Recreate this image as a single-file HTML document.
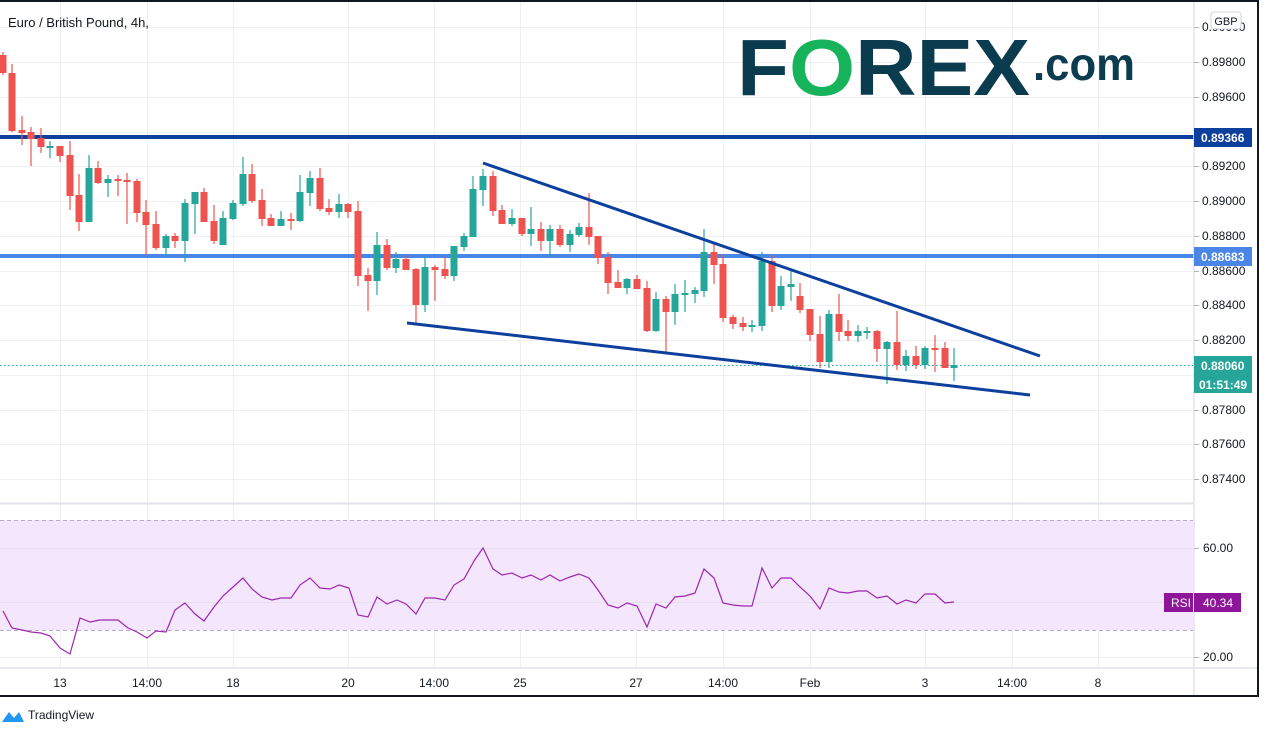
<!DOCTYPE html>
<html><head><meta charset="utf-8"><style>
html,body{margin:0;padding:0;background:#fff;width:1265px;height:733px;overflow:hidden}
svg{display:block}
text{font-family:"Liberation Sans",sans-serif}
</style></head><body>
<svg width="1265" height="733" viewBox="0 0 1265 733">
<!-- grid -->
<g stroke="#eef0f3" stroke-width="1">
<path d="M0 27.5H1193M0 62.5H1193M0 97.5H1193M0 132.5H1193M0 166.5H1193M0 201.5H1193M0 236.5H1193M0 271.5H1193M0 305.5H1193M0 340.5H1193M0 375.5H1193M0 410.5H1193M0 444.5H1193M0 479.5H1193"/>
<path d="M60.5 0V668M147.5 0V668M233.5 0V668M348.5 0V668M434.5 0V668M520.5 0V668M636.5 0V668M723.5 0V668M810.5 0V668M925.5 0V668M1012.5 0V668M1098.5 0V668"/>
</g>
<!-- logo -->
<text x="737" y="95" font-size="80" font-weight="bold" fill="#0a3b4f" textLength="293" lengthAdjust="spacingAndGlyphs">F<tspan fill="#17b35a">O</tspan>REX</text>
<text x="1033" y="80" font-size="46" font-weight="bold" fill="#0a3b4f" textLength="102" lengthAdjust="spacingAndGlyphs">.com</text>
<!-- title -->
<text x="8" y="27" font-size="13" fill="#131722">Euro / British Pound, 4h,</text>
<!-- horizontal levels -->
<rect x="0" y="135" width="1194" height="4" fill="#0d3f9c"/>
<rect x="0" y="254" width="1194" height="4" fill="#4a86e8"/>
<line x1="0" y1="365.5" x2="1193" y2="365.5" stroke="#26a69a" stroke-dasharray="1.5 2.5"/>
<!-- candles -->
<path stroke="#ef5350" stroke-width="1.2" d="M3 52V75M12 64V132M22 116V145M31 127V166M41 128V153M60 146V162M70 141V210M79 174V231M98 161V184M118 175V196M127 173V224M137 179V222M146 200V255M156 211V250M175 233V248M204 188V222M214 205V244M252 164V203M262 189V226M271 214V226M291 213V230M320 168V211M329 199V215M348 203V218M358 201V286M368 268V311M387 239V270M406 255V270M416 268V324M435 265V301M445 257V279M493 171V216M502 205V224M522 218V236M541 222V251M560 225V247M589 193V245M598 236V264M608 252V294M618 270V288M637 275V289M647 281V332M666 296V354M714 242V284M723 254V322M733 315V329M743 317V331M772 255V312M800 283V313M810 309V341M820 316V368M839 294V341M848 320V341M877 330V362M897 311V370M916 346V369M935 335V372M945 342V368"/>
<path fill="#ef5350" d="M-0.5 55h7v18h-7zM8.5 73h7v58h-7zM18.5 130h7v3h-7zM27.5 132h7v7h-7zM37.5 138h7v9h-7zM56.5 146h7v10h-7zM66.5 155h7v41h-7zM75.5 195h7v27h-7zM94.5 168h7v15h-7zM114.5 179h7v2h-7zM123.5 180h7v2h-7zM133.5 181h7v32h-7zM142.5 212h7v13h-7zM152.5 224h7v24h-7zM171.5 236h7v5h-7zM200.5 192h7v30h-7zM210.5 221h7v20h-7zM248.5 174h7v27h-7zM258.5 200h7v19h-7zM267.5 218h7v8h-7zM287.5 219h7v2h-7zM316.5 178h7v31h-7zM325.5 208h7v4h-7zM344.5 204h7v8h-7zM354.5 211h7v65h-7zM364.5 275h7v6h-7zM383.5 245h7v23h-7zM402.5 259h7v11h-7zM412.5 269h7v36h-7zM431.5 267h7v3h-7zM441.5 269h7v7h-7zM489.5 176h7v35h-7zM498.5 210h7v14h-7zM518.5 218h7v16h-7zM537.5 229h7v12h-7zM556.5 229h7v16h-7zM585.5 227h7v10h-7zM594.5 236h7v22h-7zM604.5 257h7v26h-7zM614.5 282h7v6h-7zM633.5 279h7v10h-7zM643.5 288h7v43h-7zM662.5 299h7v13h-7zM710.5 252h7v13h-7zM719.5 264h7v54h-7zM729.5 317h7v7h-7zM739.5 323h7v4h-7zM768.5 261h7v45h-7zM796.5 296h7v14h-7zM806.5 309h7v26h-7zM816.5 334h7v28h-7zM835.5 314h7v18h-7zM844.5 331h7v5h-7zM873.5 331h7v18h-7zM893.5 342h7v23h-7zM912.5 356h7v9h-7zM931.5 348h7v2h-7zM941.5 348h7v20h-7z"/>
<path stroke="#26a69a" stroke-width="1.2" d="M50 141V158M89 155V222M108 175V197M166 234V255M185 199V262M195 192V234M223 211V245M233 200V220M243 157V206M281 211V226M300 175V222M310 171V206M339 194V218M377 232V295M396 252V273M425 257V312M454 246V281M464 233V251M473 176V237M483 169V206M512 209V226M531 207V246M550 225V257M570 230V252M579 223V237M627 278V294M656 292V332M675 284V325M685 280V312M695 287V303M704 229V297M752 320V332M762 252V331M781 276V310M791 270V301M829 310V368M858 325V342M867 327V339M887 341V384M906 350V371M925 346V369M954 348V381"/>
<path fill="#26a69a" d="M46.5 146h7v2h-7zM85.5 168h7v54h-7zM104.5 179h7v4h-7zM162.5 236h7v12h-7zM181.5 203h7v38h-7zM191.5 192h7v12h-7zM219.5 218h7v27h-7zM229.5 203h7v16h-7zM239.5 174h7v30h-7zM277.5 219h7v7h-7zM296.5 192h7v29h-7zM306.5 178h7v15h-7zM335.5 204h7v8h-7zM373.5 245h7v36h-7zM392.5 259h7v9h-7zM421.5 267h7v38h-7zM450.5 246h7v30h-7zM460.5 236h7v11h-7zM469.5 189h7v48h-7zM479.5 176h7v14h-7zM508.5 218h7v6h-7zM527.5 229h7v5h-7zM546.5 229h7v12h-7zM566.5 234h7v11h-7zM575.5 227h7v8h-7zM623.5 279h7v9h-7zM652.5 299h7v32h-7zM671.5 294h7v18h-7zM681.5 293h7v2h-7zM691.5 290h7v4h-7zM700.5 252h7v39h-7zM748.5 325h7v2h-7zM758.5 261h7v65h-7zM777.5 286h7v20h-7zM787.5 284h7v3h-7zM825.5 314h7v48h-7zM854.5 331h7v5h-7zM863.5 331h7v2h-7zM883.5 342h7v7h-7zM902.5 356h7v9h-7zM921.5 348h7v17h-7zM950.5 365h7v3h-7z"/>
<!-- trendlines -->
<line x1="483" y1="163" x2="1040" y2="356" stroke="#0d3f9c" stroke-width="3"/>
<line x1="407" y1="323" x2="1030" y2="395" stroke="#0d3f9c" stroke-width="3"/>
<!-- pane separator -->
<line x1="0" y1="503.5" x2="1193" y2="503.5" stroke="#e0e3eb" stroke-width="2"/>
<!-- RSI -->
<rect x="0" y="520" width="1193" height="110" fill="#f3e6fd"/>
<line x1="0" y1="520.5" x2="1193" y2="520.5" stroke="#b9a9c4" stroke-dasharray="4 3"/>
<line x1="0" y1="630.5" x2="1193" y2="630.5" stroke="#b9a9c4" stroke-dasharray="4 3"/>
<line x1="0" y1="548.5" x2="1193" y2="548.5" stroke="#e6e0ec"/>
<line x1="0" y1="602.5" x2="1193" y2="602.5" stroke="#e6e0ec"/>
<line x1="0" y1="657.5" x2="1193" y2="657.5" stroke="#eef0f3"/>
<polyline fill="none" stroke="#9c27b0" stroke-width="1.2" points="3,611 12,628 22,630 31,632 41,633 50,636 60,648 70,654 80,618 90,622 100,620 110,620 118,620 128,628 137,632 147,638 156,631 166,632 175,610 185,603 195,614 204,621 214,607 223,596 233,587 243,578 252,589 262,597 272,600 281,598 291,598 300,585 310,578 320,588 330,589 339,585 349,588 358,615 368,617 377,597 387,604 397,600 406,604 416,614 425,598 435,598 445,600 454,585 464,579 474,561 483,548 493,569 502,575 512,573 522,578 531,575 541,580 550,575 560,581 570,577 579,574 589,578 598,590 608,605 618,608 627,603 637,606 647,627 656,604 666,608 675,597 685,596 695,593 704,569 714,578 723,603 733,605 743,606 752,606 762,568 772,588 781,578 791,578 800,587 810,596 820,609 829,588 839,592 848,593 858,591 867,591 877,598 887,596 897,604 906,600 916,603 925,594 935,594 945,603 954,602"/>
<!-- axes lines -->
<line x1="1194" y1="0" x2="1194" y2="696" stroke="#e0e3eb" stroke-width="1.5"/>
<line x1="0" y1="668" x2="1258" y2="668" stroke="#e0e3eb" stroke-width="1.5"/>
<!-- frame -->
<path d="M0 1H1258V696H0" fill="none" stroke="#131722" stroke-width="2"/>
<!-- price axis -->
<g stroke="#b2b5be"><path d="M1194 27.5h5M1194 62.5h5M1194 97.5h5M1194 166.5h5M1194 201.5h5M1194 236.5h5M1194 271.5h5M1194 305.5h5M1194 340.5h5M1194 410.5h5M1194 444.5h5M1194 479.5h5M1194 548.5h5M1194 657.5h5"/></g>
<g font-size="12" fill="#131722">
<text x="1202" y="31">0.90000</text>
<text x="1202" y="66">0.89800</text>
<text x="1202" y="101">0.89600</text>
<text x="1202" y="170">0.89200</text>
<text x="1202" y="205">0.89000</text>
<text x="1202" y="240">0.88800</text>
<text x="1202" y="275">0.88600</text>
<text x="1202" y="309">0.88400</text>
<text x="1202" y="344">0.88200</text>
<text x="1202" y="414">0.87800</text>
<text x="1202" y="448">0.87600</text>
<text x="1202" y="483">0.87400</text>
<text x="1203" y="552">60.00</text>
<text x="1203" y="661">20.00</text>
</g>
<rect x="1211" y="12" width="30" height="17" rx="3" fill="#fff" stroke="#d1d4dc"/>
<text x="1226" y="25" font-size="11" fill="#131722" text-anchor="middle">GBP</text>
<rect x="1194" y="128" width="58" height="19" fill="#0d3f9c"/>
<text x="1201" y="142" font-size="12" font-weight="bold" fill="#fff">0.89366</text>
<rect x="1194" y="247" width="58" height="19" fill="#4a86e8"/>
<text x="1201" y="261" font-size="12" font-weight="bold" fill="#fff">0.88683</text>
<rect x="1194" y="356" width="58" height="19" fill="#26a69a"/>
<text x="1201" y="370" font-size="12" font-weight="bold" fill="#fff">0.88060</text>
<rect x="1194" y="375" width="58" height="18" fill="#26a69a"/>
<text x="1199" y="389" font-size="12" font-weight="bold" fill="#fff">01:51:49</text>
<rect x="1164" y="593" width="29" height="19" fill="#8e1599"/>
<text x="1171" y="607" font-size="12" fill="#fff">RSI</text>
<rect x="1194" y="593" width="47" height="19" fill="#8e1599"/>
<text x="1203" y="607" font-size="12" fill="#fff">40.34</text>
<!-- time axis -->
<g font-size="12" fill="#131722" text-anchor="middle">
<text x="60" y="687">13</text><text x="147" y="687">14:00</text><text x="233" y="687">18</text><text x="348" y="687">20</text><text x="434" y="687">14:00</text><text x="520" y="687">25</text><text x="636" y="687">27</text><text x="723" y="687">14:00</text><text x="810" y="687">Feb</text><text x="925" y="687">3</text><text x="1012" y="687">14:00</text><text x="1098" y="687">8</text>
</g>
<!-- TradingView -->
<path d="M2 722 L9 712 L14 718 L19 712 L24 722 Z" fill="#2196f3"/>
<text x="28" y="719" font-size="12" fill="#131722">TradingView</text>
</svg>
</body></html>
